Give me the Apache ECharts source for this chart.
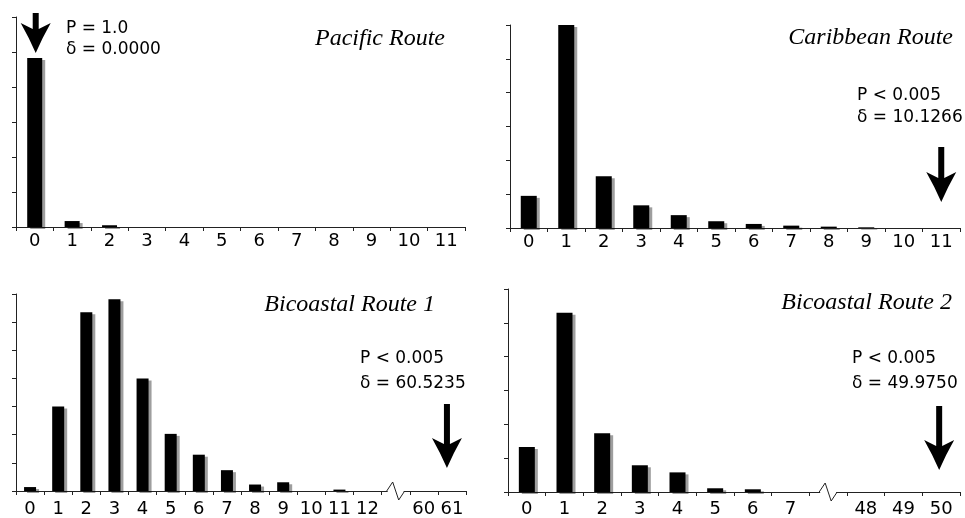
<!DOCTYPE html>
<html>
<head>
<meta charset="utf-8">
<script src="https://cdn.jsdelivr.net/npm/echarts@6/dist/echarts.min.js"></script>
<style>
  html, body { margin: 0; padding: 0; background: #fff; }
  #main { width: 965px; height: 518px; }
</style>
</head>
<body>
<div id="main"></div>
<script>
// categories (x bins) per panel, '' marks the axis break
var cats1 = ['0','1','2','3','4','5','6','7','8','9','10','11'];
var cats2 = ['0','1','2','3','4','5','6','7','8','9','10','11'];
var cats3 = ['0','1','2','3','4','5','6','7','8','9','10','11','12','','60','61'];
var cats4 = ['0','1','2','3','4','5','6','7','','48','49','50'];

// bar heights, in y-tick units (axes have no labels)
var pacific   = [4.83, 0.17, 0.05, 0, 0, 0, 0, 0, 0, 0, 0, 0];
var caribbean = [0.95, 6.0, 1.53, 0.67, 0.38, 0.2, 0.12, 0.07, 0.04, 0.02, 0, 0];
var bicoast1  = [0.14, 3.0, 6.35, 6.81, 4.0, 2.03, 1.29, 0.74, 0.23, 0.31, 0, 0.05, 0, null, 0, 0];
var bicoast2  = [1.33, 5.3, 1.74, 0.79, 0.58, 0.11, 0.08, 0, null, 0, 0, 0];

var titles = ['Pacific Route', 'Caribbean Route', 'Bicoastal Route 1', 'Bicoastal Route 2'];
var pLines = ['P = 1.0', 'P < 0.005', 'P < 0.005', 'P < 0.005'];
var dLines = ['\u03B4 = 0.0000', '\u03B4 = 10.1266', '\u03B4 = 60.5235', '\u03B4 = 49.9750'];
var arrowAt = [0, 11, 15, 11];   // bin index the arrow points at
var breakAt = [null, null, 13, 8];
var yMax = [6, 6, 7, 6];

var allCats = [cats1, cats2, cats3, cats4];
var allData = [pacific, caribbean, bicoast1, bicoast2];

// layout
var grids = [
  {left: 16, top: 17, width: 449, height: 210},
  {left: 510, top: 25, width: 450, height: 203},
  {left: 16, top: 294, width: 450, height: 197},
  {left: 508, top: 289, width: 452, height: 203}
];
var barW = [15, 16, 12, 16];
var labelMargin = [5, 5, 9, 8];
var titlePos = [[445, 46], [953, 45], [435, 312], [952, 310]];      // right edge, baseline
var notePos = [[66, 33, 54], [857, 100, 122], [360, 363, 388], [852, 363, 388]];
var arrowY = [[13, 23, 53], [147, 172, 202], [404, 438, 468], [406, 440, 470]]; // shaft top, head start, tip
var arrowDx = [1, 0, -5, -2];

var axisColor = '#222';
var sans = 'DejaVu Sans';

var chart = echarts.init(document.getElementById('main'));

var xAxes = [], yAxes = [], series = [];
for (var i = 0; i < 4; i++) {
  xAxes.push({
    type: 'category',
    gridIndex: i,
    data: allCats[i],
    boundaryGap: true,
    axisLine: {show: true, lineStyle: {color: axisColor, width: 1}},
    axisTick: {show: true, length: 4, lineStyle: {color: axisColor}},
    axisLabel: {color: '#000', fontFamily: sans, fontSize: 18, margin: labelMargin[i], interval: 0},
    splitLine: {show: false}
  });
  yAxes.push({
    type: 'value',
    gridIndex: i,
    min: 0,
    max: yMax[i],
    interval: 1,
    axisLine: {show: true, lineStyle: {color: axisColor, width: 1}},
    axisTick: {show: true, length: 4, lineStyle: {color: axisColor}},
    axisLabel: {show: false},
    splitLine: {show: false}
  });
  series.push({
    type: 'bar',
    xAxisIndex: i,
    yAxisIndex: i,
    data: allData[i],
    barWidth: barW[i],
    clip: false,
    silent: true,
    itemStyle: {
      color: '#000',
      shadowColor: 'rgba(0,0,0,0.38)',
      shadowBlur: 0,
      shadowOffsetX: 3,
      shadowOffsetY: 2
    }
  });
}

chart.setOption({
  animation: false,
  backgroundColor: '#fff',
  grid: grids,
  xAxis: xAxes,
  yAxis: yAxes,
  series: series
});

// annotations: titles, P / delta text, arrows, axis breaks
var g = [];
for (var k = 0; k < 4; k++) {
  g.push({
    type: 'text', z: 10, x: titlePos[k][0], y: titlePos[k][1] + 5,
    style: {
      text: titles[k], textAlign: 'right', textVerticalAlign: 'bottom',
      font: 'italic 24px "Liberation Serif"', fill: '#000'
    }
  });
  g.push({
    type: 'text', z: 10, x: notePos[k][0], y: notePos[k][1] + 4,
    style: {text: pLines[k], textAlign: 'left', textVerticalAlign: 'bottom', font: '17px "' + sans + '"', fill: '#000'}
  });
  g.push({
    type: 'text', z: 10, x: notePos[k][0], y: notePos[k][2] + 4,
    style: {text: dLines[k], textAlign: 'left', textVerticalAlign: 'bottom', font: '17px "' + sans + '"', fill: '#000'}
  });

  var px = chart.convertToPixel({gridIndex: k}, [arrowAt[k], 0]);
  var cx = px[0] + arrowDx[k];
  var ay0 = arrowY[k][0], hs = arrowY[k][1], tip = arrowY[k][2];
  g.push({
    type: 'polygon', z: 10,
    shape: {points: [
      [cx - 3, ay0], [cx + 3, ay0], [cx + 3, hs + 6], [cx + 15, hs],
      [cx + 7, hs + 15], [cx, tip], [cx - 7, hs + 15], [cx - 15, hs], [cx - 3, hs + 6]
    ]},
    style: {fill: '#000'}
  });

  if (breakAt[k] !== null) {
    var bp = chart.convertToPixel({gridIndex: k}, [breakAt[k], 0]);
    var bx = bp[0], by = bp[1];
    g.push({
      type: 'rect', z: 10,
      shape: {x: bx - 8, y: by - 2, width: 16, height: 4},
      style: {fill: '#fff'}
    });
    g.push({
      type: 'polyline', z: 11,
      shape: {points: [[bx - 9, by], [bx - 3, by - 9], [bx + 3, by + 9], [bx + 9, by]]},
      style: {stroke: axisColor, lineWidth: 1, fill: 'none'}
    });
  }
}
chart.setOption({graphic: {elements: g}});
</script>
</body>
</html>
